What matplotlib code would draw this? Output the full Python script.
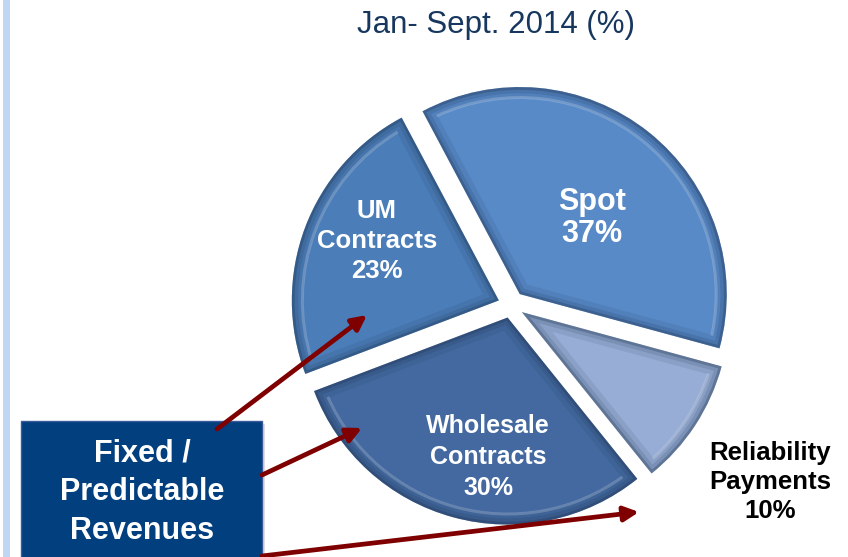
import matplotlib.pyplot as plt
from matplotlib.patches import Wedge, Rectangle

plt.rcParams['font.family'] = ['Liberation Sans', 'DejaVu Sans']

# revenue mix, Jan-Sept 2014 (clockwise from the top-left edge of Spot)
segments = ["Spot", "Reliability Payments", "Wholesale Contracts", "UM Contracts"]
shares = [37, 10, 30, 23]
colors = ["#588AC8", "#97ADD5", "#4369A0", "#4B7DB9"]
title = "Jan- Sept. 2014 (%)"
box_text = "Fixed /\nPredictable\nRevenues"

W, H = 848, 557


def py(y):
    # pixel row (from top) -> data y
    return H - y


fig = plt.figure(figsize=(W / 100, H / 100), dpi=100)
ax = fig.add_axes([0, 0, 1, 1])

# explode is in data units here (pixels)
wedges, _ = ax.pie(shares, colors=colors, startangle=118, counterclock=False,
                   explode=[14, 13, 13, 13], radius=207, center=(511, py(305)),
                   wedgeprops=dict(edgecolor="none", linewidth=0))

# fake bevel: darker strokes clipped inside each slice
for w in wedges:
    for lw, a in [(16, 0.10), (9, 0.14), (4, 0.28)]:
        p = Wedge(w.center, w.r, w.theta1, w.theta2, fill=False,
                  edgecolor="#1b2f4a", linewidth=lw, alpha=a)
        p.set_clip_path(w)
        ax.add_patch(p)
    # light rim highlight just inside the arc
    hl = Wedge(w.center, w.r - 9, w.theta1 + 3, w.theta2 - 3, width=3,
               facecolor="white", edgecolor="none", alpha=0.2)
    hl.set_clip_path(w)
    ax.add_patch(hl)

ax.set_xlim(0, W)
ax.set_ylim(0, H)
ax.set_aspect("equal")
ax.axis("off")

# left accent bar
ax.add_patch(Rectangle((3, 0), 7, H, facecolor="#BFD7F5", edgecolor="none"))

ax.text(496, py(25), title, ha="center", va="center", fontsize=22.5,
        color="#17375E")

# slice labels
ax.text(592, py(218), "Spot\n37%", ha="center", va="center", fontsize=22,
        fontweight="bold", color="white", linespacing=1.08)
ax.text(377, py(241), "UM\nContracts\n23%", ha="center", va="center",
        fontsize=18.5, fontweight="bold", color="white", linespacing=1.3)
ax.text(488, py(457), "Wholesale\nContracts\n30%", ha="center", va="center",
        fontsize=18, fontweight="bold", color="white", linespacing=1.38)
ax.text(770, py(482), "Reliability\nPayments\n10%", ha="center", va="center",
        fontsize=18.5, fontweight="bold", color="black", linespacing=1.28)

# fixed / predictable box
ax.add_patch(Rectangle((24, py(560)), 241, 136, facecolor="#c8c8d0",
                       edgecolor="none", alpha=0.6))
ax.add_patch(Rectangle((21, py(560)), 241, 139, facecolor="#023F7E",
                       edgecolor="#3a5a9a", linewidth=1))
ax.text(142, py(492), box_text, ha="center", va="center", fontsize=22,
        fontweight="bold", color="white", linespacing=1.38)

# arrows from the box to the contracted slices
arrow_kw = dict(arrowstyle="-|>", color="#7E0000", lw=3.4, mutation_scale=22,
                shrinkA=0, shrinkB=0)
for start, end in [((217, 429), (367, 315)),
                   ((262, 475), (362, 428)),
                   ((262, 556), (639, 512))]:
    ax.annotate("", xy=(end[0], py(end[1])), xytext=(start[0], py(start[1])),
                arrowprops=arrow_kw)

fig.savefig("out.png", dpi=100)
